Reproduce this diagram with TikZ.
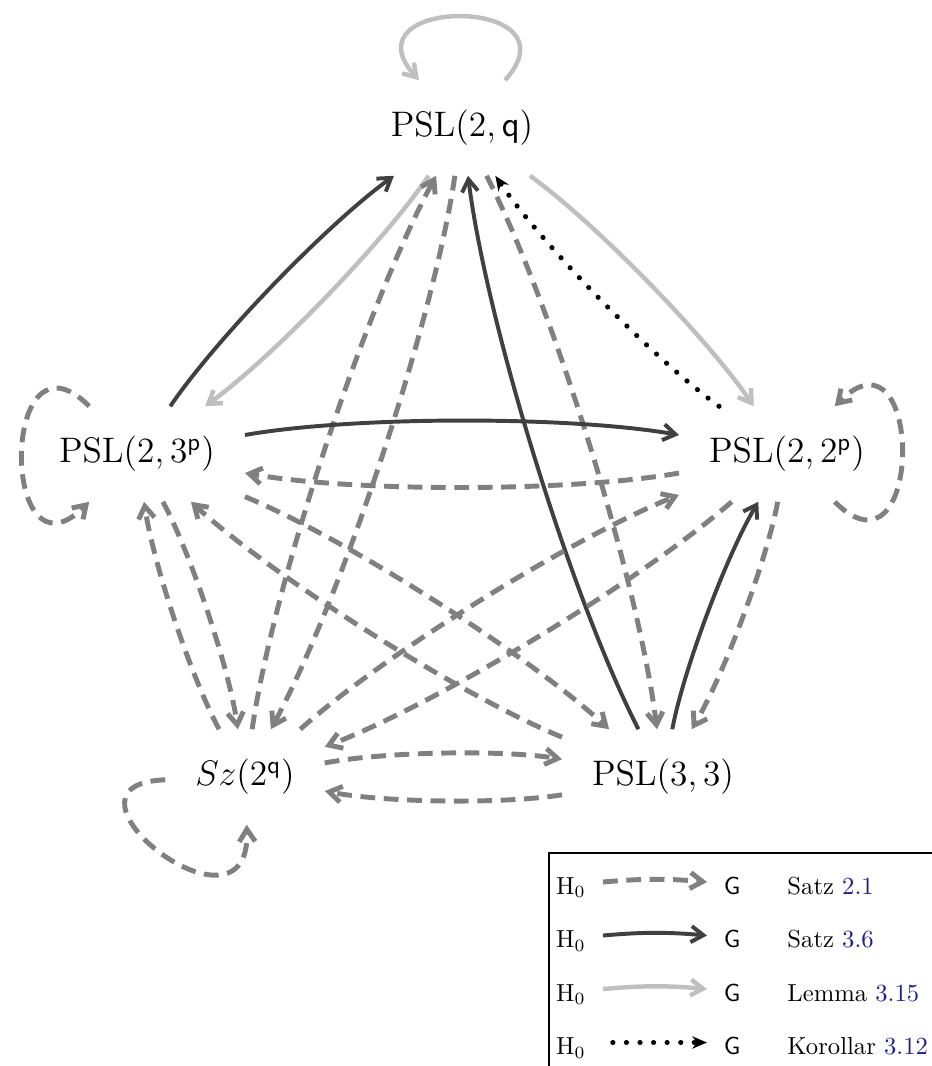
\documentclass[tikz,border=0pt]{standalone}
\usetikzlibrary{arrows.meta}
\definecolor{refblue}{RGB}{30,30,140}
\begin{document}
\begin{tikzpicture}[x=0.406pt,y=-0.406pt,
  grp/.style={inner xsep=12pt,inner ysep=12pt,font=\fontsize{13.6}{16}\selectfont},
  tipb/.style={-{Straight Barb[length=5pt,width=6.5pt]}},
  dsh/.style={draw=gray,line width=2pt,dash pattern=on 6pt off 3.5pt,tipb},
  drk/.style={draw=black!75,line width=1.6pt,tipb},
  lgt/.style={draw=black!25,line width=1.8pt,tipb},
  dotarr/.style={draw=black,line width=2.1pt,line cap=round,dash pattern=on 0.01pt off 5.5pt,-{Stealth[length=6pt,width=5pt]}},
  pair/.style={bend left=10,looseness=0.65},
  legtxt/.style={anchor=base,inner sep=0pt},
]
\useasboundingbox (0,0) rectangle (932,1066);

% nodes
\node[grp] (A) at (462,128) {$\mathrm{PSL}(2,\mathsf{q})$};
\node[grp] (B) at (137,454) {$\mathrm{PSL}(2,3^{\mathsf{p}})$};
\node[grp] (C) at (787,454) {$\mathrm{PSL}(2,2^{\mathsf{p}})$};
\node[grp] (D) at (245,777) {$Sz(2^{\mathsf{q}})$};
\node[grp] (E) at (663,777) {$\mathrm{PSL}(3,3)$};

% self loops
\draw[lgt] (A) to[out=48,in=132,looseness=3.4] (A);
\draw[dsh] (B) to[out=135,in=225,looseness=3.4] (B);
\draw[dsh] (C) to[out=-45,in=45,looseness=3.4] (C);
\draw[dsh] (D) to[out=182,in=272,looseness=3.5] (D);

% pairs
\draw[drk] (B) to[pair] (A);
\draw[lgt] (A) to[pair] (B);
\draw[dsh] (D) to[pair] (A);
\draw[dsh] (A) to[pair] (D);
\draw[drk] (E) to[pair] (A);
\draw[dsh] (A) to[pair] (E);
\draw[dotarr] (C) to[pair] (A);
\draw[lgt] (A) to[pair] (C);
\draw[drk] (B) to[pair] (C);
\draw[dsh] (C) to[pair] (B);
\draw[dsh] (D) to[pair] (B);
\draw[dsh] (B) to[pair] (D);
\draw[dsh] (E) to[pair] (B);
\draw[dsh] (B) to[pair] (E);
\draw[dsh] (D) to[pair] (C);
\draw[dsh] (C) to[pair] (D);
\draw[dsh] (D) to[pair] (E);
\draw[dsh] (E) to[pair] (D);
\draw[drk] (E) to[pair] (C);
\draw[dsh] (C) to[pair] (E);

% legend
\draw[line width=0.7pt] (549,1070) -- (549,853) -- (936,853);
\foreach \i/\y in {1/894,2/947.5,3/1001,4/1054.5}{
  \node[legtxt] (h\i) at (571,\y) {$\mathrm{H}_0$};
  \node[legtxt] (g\i) at (732,\y) {$\mathsf{G}$};
  \coordinate (s\i) at (603,\y-12);
  \coordinate (e\i) at (707,\y-12);
}
\node[legtxt,anchor=base west] (t1) at (787,894) {Satz \textcolor{refblue}{2.1}};
\node[legtxt,anchor=base west] (t2) at (787,947.5) {Satz \textcolor{refblue}{3.6}};
\node[legtxt,anchor=base west] (t3) at (787,1001) {Lemma \textcolor{refblue}{3.15}};
\node[legtxt,anchor=base west] (t4) at (787,1054.5) {Korollar \textcolor{refblue}{3.12}};
\draw[dsh] (s1) to[bend left=5] (e1);
\draw[drk] (s2) to[bend left=5] (e2);
\draw[lgt] (s3) to[bend left=5] (e3);
\draw[dotarr,shorten <=4pt] (s4) -- (e4);
\end{tikzpicture}
\end{document}
